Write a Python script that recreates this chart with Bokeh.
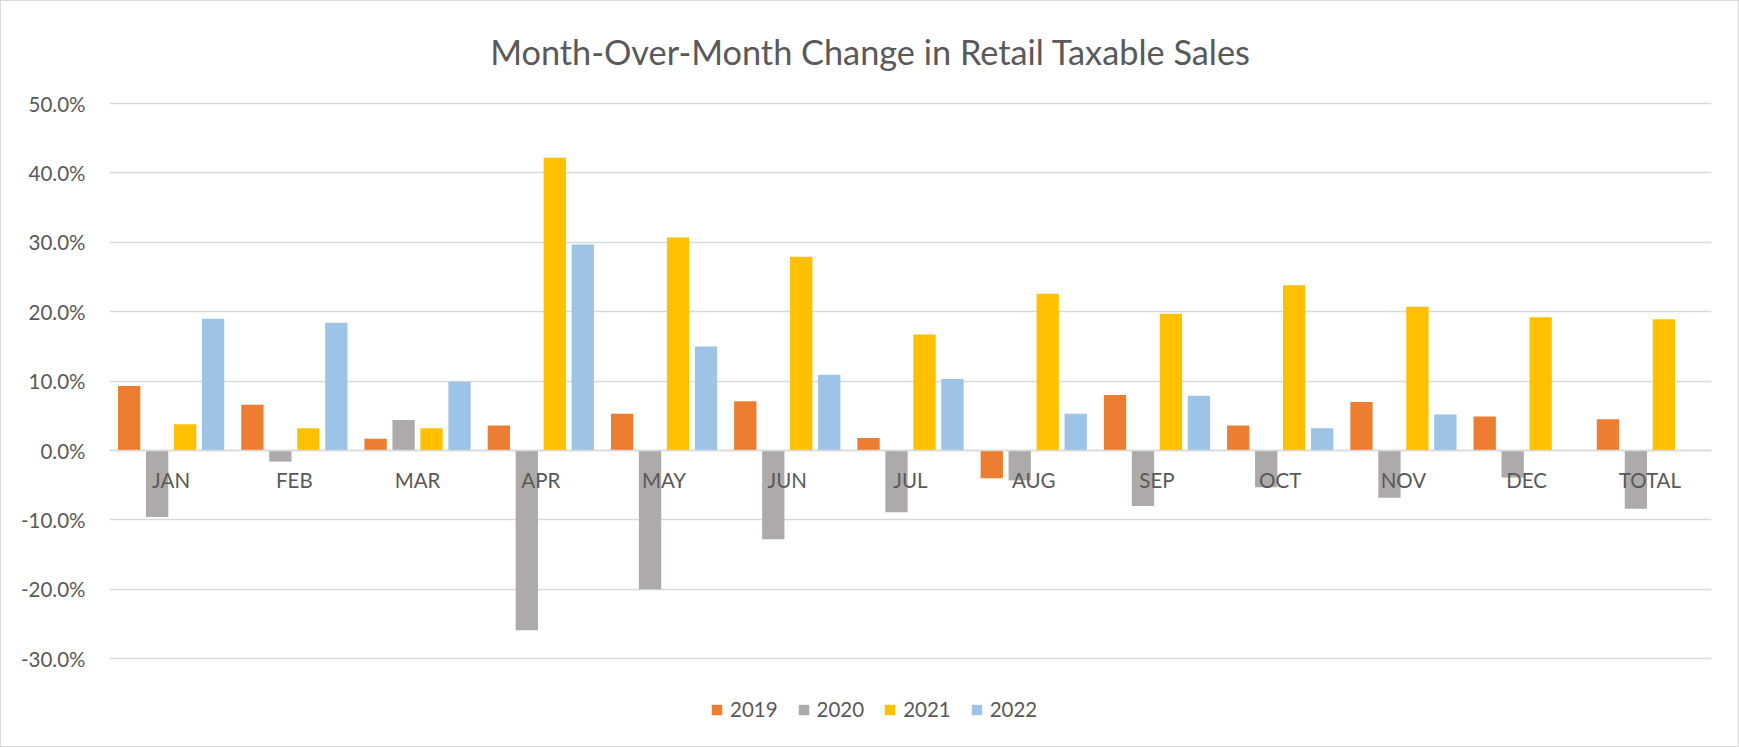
from bokeh.plotting import figure
from bokeh.models import (Range1d, FixedTicker, NumeralTickFormatter, Legend, LegendItem,
                          Label, ColumnDataSource)
from bokeh.embed import file_html
from bokeh.resources import INLINE

months = ["JAN", "FEB", "MAR", "APR", "MAY", "JUN", "JUL", "AUG", "SEP", "OCT", "NOV", "DEC", "TOTAL"]
years = ["2019", "2020", "2021", "2022"]
y2019 = [9.3, 6.6, 1.7, 3.6, 5.3, 7.1, 1.8, -4.0, 8.0, 3.6, 7.0, 4.9, 4.5]
y2020 = [-9.6, -1.6, 4.4, -25.9, -20.0, -12.8, -8.9, -4.3, -8.0, -5.3, -6.8, -3.9, -8.4]
y2021 = [3.8, 3.2, 3.2, 42.2, 30.7, 27.9, 16.7, 22.6, 19.7, 23.8, 20.7, 19.2, 18.9]
y2022 = [19.0, 18.4, 9.9, 29.7, 15.0, 10.9, 10.3, 5.3, 7.9, 3.2, 5.2, None, None]
colors = ["#ED7D31", "#AEAAAA", "#FFC000", "#9DC3E6"]
y_ticks = [-0.3, -0.2, -0.1, 0.0, 0.1, 0.2, 0.3, 0.4, 0.5]
title_text = "Month-Over-Month Change in Retail Taxable Sales"

FONT = "Lato"
TXT = "#595959"
GRID = "#D9D9D9"

W, H = 1739, 747
PX_PER_UNIT = 694.0          # vertical pixels per 100 %
ZERO_PX = 449                # canvas y of the 0 % line
Y_TOP = ZERO_PX / PX_PER_UNIT
Y_BOT = -(H - ZERO_PX) / PX_PER_UNIT
FRAME_L, FRAME_R = 108, 1710
X_PX = (FRAME_R - FRAME_L) / len(months)

p = figure(width=W, height=H, output_backend="svg", toolbar_location=None,
           x_range=Range1d(0, len(months)), y_range=Range1d(Y_BOT, Y_TOP),
           min_border_left=FRAME_L, min_border_right=W - FRAME_R, min_border_top=0,
           min_border_bottom=0)
p.outline_line_color = None
p.background_fill_color = "white"
p.border_fill_color = "white"

series = [y2019, y2020, y2021, y2022]
step = 0.227
bw = 0.181
renderers = []
for k, (vals, col) in enumerate(zip(series, colors)):
    off = (k - 1.5) * step
    xs = [i + 0.5 + off for i, v in enumerate(vals) if v is not None]
    tops = [v / 100.0 for v in vals if v is not None]
    src = ColumnDataSource(dict(x=xs, top=tops))
    r = p.vbar(x="x", top="top", bottom=0, width=bw, source=src,
               fill_color=col, line_color=None)
    renderers.append(r)

# Y axis
yax = p.yaxis[0]
yax.ticker = FixedTicker(ticks=y_ticks)
yax.formatter = NumeralTickFormatter(format="0.0%")
yax.axis_line_color = None
yax.major_tick_line_color = None
yax.minor_tick_line_color = None
yax.major_tick_out = 0
yax.major_label_standoff = 24
yax.major_label_text_font = FONT
yax.major_label_text_font_size = "20.5px"
yax.major_label_text_color = TXT

p.ygrid.ticker = FixedTicker(ticks=y_ticks)
p.ygrid.grid_line_color = GRID
p.ygrid.grid_line_width = 1.5
p.xgrid.grid_line_color = None

# X axis (drawn at 0 %)
xax = p.xaxis[0]
xax.ticker = FixedTicker(ticks=[i + 0.5 for i in range(len(months))])
xax.major_label_overrides = {i + 0.5: m for i, m in enumerate(months)}
xax.fixed_location = 0
xax.axis_line_color = GRID
xax.axis_line_width = 1.5
xax.major_tick_line_color = None
xax.minor_tick_line_color = None
xax.major_tick_out = 0
xax.major_label_standoff = 17
xax.major_label_text_font = FONT
xax.major_label_text_font_size = "20.5px"
xax.major_label_text_color = TXT

# Title (inside the frame, above the 50 % line)
title = Label(x=(869 - FRAME_L) / X_PX, y=(ZERO_PX - 50) / PX_PER_UNIT,
              text=title_text, text_align="center", text_baseline="middle",
              text_font=FONT, text_font_size="34.3px", text_color=TXT)
p.add_layout(title)

# Legend
items = [LegendItem(label=y, renderers=[r]) for y, r in zip(years, renderers)]
legend = Legend(items=items, orientation="horizontal", location=(601, 27),
                glyph_width=13, glyph_height=13, label_standoff=7, spacing=19,
                padding=0, margin=0, border_line_color=None, background_fill_alpha=0,
                label_text_font=FONT, label_text_font_size="20.5px", label_text_color=TXT)
p.add_layout(legend, "center")

p.styles = {"border": "1px solid #D9D9D9", "box-sizing": "border-box"}

open("out.html", "w").write(file_html(p, INLINE))
